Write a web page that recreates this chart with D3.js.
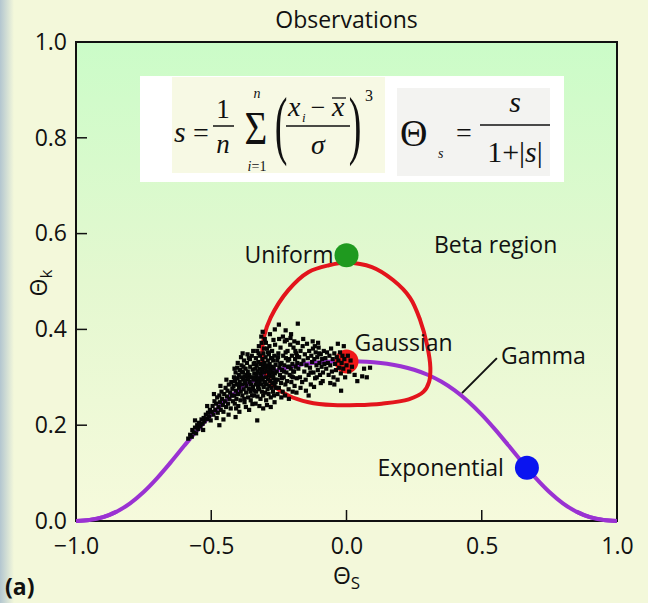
<!DOCTYPE html>
<html><head><meta charset="utf-8">
<script src="https://cdn.jsdelivr.net/npm/d3@7"></script>
<style>
html,body{margin:0;padding:0;background:#f3f8da;}
svg{display:block;}
</style></head><body>
<svg id="chart" width="648" height="603"></svg>
<script>
// Gamma family curve: Θs vs Θk
const gammaS = [-1.0,-0.95,-0.9,-0.85,-0.8,-0.75,-0.7,-0.65,-0.6,-0.55,-0.5,-0.45,-0.4,-0.35,-0.3,-0.25,-0.2,-0.15,-0.1,-0.05,0,
  0.05,0.1,0.15,0.2,0.25,0.3,0.35,0.4,0.45,0.5,0.55,0.6,0.65,0.7,0.75,0.8,0.85,0.9,0.95,1.0];
const gammaK = [0,0.002,0.008,0.0195,0.037,0.0606,0.0896,0.1224,0.1569,0.1908,0.2222,0.2497,0.2727,0.2911,0.3053,0.3158,0.3232,0.3282,0.3313,0.3329,0.3333,
  0.3329,0.3313,0.3282,0.3232,0.3158,0.3053,0.2911,0.2727,0.2497,0.2222,0.1908,0.1569,0.1224,0.0896,0.0606,0.037,0.0195,0.008,0.002,0];

// Beta region boundary (closed loop)
const loopS = [0,0.094,0.172,0.235,0.272,0.298,0.310,0.305,0.285,0.230,0.130,0.040,-0.050,-0.140,-0.215,-0.270,-0.300,-0.312,-0.305,-0.280,-0.215,-0.140,-0.065];
const loopK = [0.539,0.530,0.503,0.466,0.420,0.367,0.320,0.290,0.270,0.254,0.245,0.242,0.242,0.248,0.262,0.283,0.310,0.345,0.385,0.425,0.482,0.520,0.534];

// Reference distributions
const refNames = ["Uniform","Gaussian","Exponential"];
const refS = [0, 0, 0.667];
const refK = [0.555, 0.333, 0.111];
const refColors = ["#1f9a1f","#f01818","#0a14f0"];

// Observations (Θs, Θk pairs)
const obs = [
-0.585,0.172,-0.578,0.180,-0.572,0.176,-0.570,0.190,-0.565,0.185,-0.560,0.195,-0.556,0.183,-0.552,0.200,-0.548,0.192,-0.545,0.205,
-0.540,0.198,-0.536,0.212,-0.532,0.203,-0.528,0.215,-0.525,0.208,-0.520,0.222,-0.516,0.213,-0.512,0.226,-0.508,0.218,-0.505,0.232,
-0.502,0.210,-0.498,0.228,-0.560,0.210,-0.530,0.190,-0.515,0.240,
-0.495,0.240,-0.492,0.222,-0.488,0.250,-0.485,0.232,-0.482,0.245,-0.478,0.258,-0.476,0.226,-0.473,0.238,-0.470,0.262,-0.468,0.248,
-0.465,0.232,-0.462,0.270,-0.460,0.255,-0.457,0.242,-0.455,0.228,-0.452,0.265,-0.450,0.250,-0.447,0.278,-0.445,0.238,-0.442,0.260,
-0.440,0.272,-0.438,0.245,-0.435,0.285,-0.433,0.255,-0.430,0.268,-0.428,0.235,-0.426,0.290,-0.424,0.262,-0.422,0.276,-0.420,0.250,
-0.490,0.265,-0.480,0.215,-0.466,0.282,-0.455,0.212,-0.444,0.295,-0.436,0.222,-0.410,0.217,-0.470,0.200,
-0.418,0.282,-0.416,0.300,-0.415,0.262,-0.413,0.245,-0.412,0.292,-0.410,0.310,-0.409,0.272,-0.407,0.255,-0.406,0.285,-0.404,0.320,
-0.403,0.298,-0.401,0.265,-0.400,0.240,-0.398,0.305,-0.397,0.278,-0.395,0.290,-0.394,0.315,-0.392,0.252,-0.391,0.270,-0.389,0.300,
-0.388,0.325,-0.386,0.285,-0.385,0.262,-0.383,0.310,-0.382,0.295,-0.380,0.275,-0.379,0.335,-0.377,0.248,-0.376,0.302,-0.374,0.288,
-0.373,0.318,-0.371,0.268,-0.370,0.282,-0.368,0.330,-0.367,0.296,-0.365,0.312,-0.364,0.258,-0.362,0.276,-0.361,0.340,-0.359,0.305,
-0.358,0.290,-0.356,0.322,-0.355,0.270,-0.353,0.285,-0.352,0.300,-0.350,0.345,-0.349,0.262,-0.347,0.316,-0.346,0.280,-0.344,0.295,
-0.343,0.328,-0.341,0.308,-0.340,0.272,-0.408,0.235,-0.396,0.228,-0.384,0.350,-0.372,0.238,-0.360,0.232,-0.348,0.244,-0.345,0.355,
-0.390,0.342,-0.378,0.255,-0.366,0.348,-0.354,0.252,-0.402,0.330,-0.414,0.318,-0.387,0.312,-0.375,0.292,-0.363,0.298,-0.351,0.275,
-0.399,0.285,-0.381,0.322,-0.369,0.305,-0.357,0.338,-0.342,0.262,
-0.338,0.300,-0.337,0.318,-0.336,0.285,-0.335,0.340,-0.334,0.270,-0.333,0.305,-0.332,0.325,-0.331,0.292,-0.330,0.355,-0.329,0.260,
-0.328,0.312,-0.327,0.280,-0.326,0.332,-0.325,0.298,-0.324,0.365,-0.323,0.275,-0.322,0.318,-0.321,0.290,-0.320,0.345,-0.319,0.308,
-0.318,0.255,-0.317,0.328,-0.316,0.285,-0.315,0.302,-0.314,0.372,-0.313,0.270,-0.312,0.315,-0.311,0.338,-0.310,0.295,-0.309,0.322,
-0.308,0.262,-0.307,0.350,-0.306,0.280,-0.305,0.310,-0.304,0.330,-0.303,0.290,-0.302,0.380,-0.301,0.268,-0.300,0.318,-0.299,0.342,
-0.298,0.300,-0.297,0.252,-0.296,0.325,-0.295,0.285,-0.294,0.360,-0.293,0.312,-0.292,0.275,-0.291,0.335,-0.290,0.296,-0.289,0.320,
-0.288,0.265,-0.287,0.348,-0.286,0.305,-0.285,0.282,-0.284,0.328,-0.283,0.390,-0.282,0.292,-0.281,0.315,-0.280,0.258,-0.279,0.340,
-0.278,0.302,-0.277,0.278,-0.276,0.322,-0.275,0.355,-0.274,0.288,-0.273,0.310,-0.272,0.270,-0.271,0.335,-0.270,0.298,-0.269,0.318,
-0.268,0.262,-0.267,0.345,-0.266,0.285,-0.265,0.308,-0.264,0.368,-0.263,0.295,-0.262,0.326,-0.261,0.278,-0.336,0.245,-0.322,0.240,
-0.308,0.235,-0.294,0.242,-0.280,0.238,-0.266,0.248,-0.330,0.210,-0.315,0.385,-0.298,0.372,-0.285,0.365,-0.270,0.378,-0.325,0.350,
-0.305,0.360,-0.290,0.352,-0.275,0.340,-0.340,0.330,-0.328,0.288,-0.312,0.298,-0.300,0.288,-0.286,0.312,-0.272,0.302,-0.262,0.290,
-0.250,0.410,-0.180,0.412,-0.310,0.395,-0.265,0.400,-0.225,0.398,-0.205,0.390,
-0.258,0.312,-0.256,0.335,-0.254,0.295,-0.252,0.350,-0.250,0.278,-0.248,0.320,-0.246,0.305,-0.244,0.362,-0.242,0.288,-0.240,0.330,
-0.238,0.315,-0.236,0.270,-0.234,0.345,-0.232,0.300,-0.230,0.325,-0.228,0.375,-0.226,0.285,-0.224,0.340,-0.222,0.310,-0.220,0.292,
-0.218,0.355,-0.216,0.322,-0.214,0.275,-0.212,0.338,-0.210,0.305,-0.208,0.368,-0.206,0.318,-0.204,0.290,-0.202,0.345,-0.200,0.328,
-0.198,0.300,-0.196,0.362,-0.194,0.312,-0.192,0.282,-0.190,0.338,-0.188,0.322,-0.186,0.350,-0.184,0.298,-0.182,0.330,-0.180,0.372,
-0.255,0.265,-0.241,0.258,-0.227,0.262,-0.213,0.255,-0.199,0.270,-0.185,0.268,-0.249,0.380,-0.235,0.385,-0.221,0.378,-0.207,0.382,
-0.193,0.375,-0.253,0.342,-0.239,0.298,-0.225,0.352,-0.211,0.322,-0.197,0.312,-0.183,0.345,-0.245,0.328,-0.231,0.312,-0.217,0.335,
-0.203,0.302,-0.189,0.355,
-0.178,0.318,-0.175,0.342,-0.172,0.300,-0.170,0.355,-0.167,0.328,-0.164,0.290,-0.162,0.365,-0.159,0.335,-0.156,0.312,-0.154,0.348,
-0.151,0.295,-0.148,0.325,-0.146,0.370,-0.143,0.340,-0.140,0.305,-0.138,0.355,-0.135,0.320,-0.132,0.285,-0.130,0.345,-0.127,0.332,
-0.124,0.360,-0.122,0.310,-0.119,0.338,-0.116,0.298,-0.114,0.352,-0.111,0.325,-0.108,0.342,-0.106,0.315,-0.103,0.362,-0.100,0.330,
-0.098,0.305,-0.095,0.348,-0.092,0.322,-0.090,0.338,-0.087,0.310,-0.084,0.355,-0.082,0.328,-0.140,0.262,-0.120,0.280,-0.095,0.288,
-0.160,0.380,-0.125,0.375,-0.105,0.372,-0.088,0.292,-0.150,0.272,-0.110,0.300,-0.170,0.278,-0.133,0.310,-0.117,0.365,-0.101,0.350,
-0.078,0.340,-0.075,0.318,-0.072,0.352,-0.069,0.330,-0.066,0.305,-0.063,0.345,-0.060,0.325,-0.057,0.360,-0.054,0.312,-0.051,0.338,
-0.048,0.300,-0.045,0.350,-0.042,0.328,-0.039,0.315,-0.036,0.342,-0.033,0.295,-0.030,0.335,-0.027,0.320,-0.024,0.352,-0.021,0.308,
-0.018,0.330,-0.015,0.345,-0.012,0.318,-0.008,0.338,-0.005,0.300,0.000,0.325,0.005,0.345,0.010,0.312,0.015,0.335,0.020,0.322,
-0.020,0.272,-0.045,0.285,0.030,0.305,0.058,0.302,0.065,0.318,0.087,0.320,0.075,0.300,-0.060,0.288,0.040,0.292,-0.010,0.365,
-0.032,0.370
];

const xTicks = [-1.0,-0.5,0.0,0.5,1.0];
const yTicks = [0.0,0.2,0.4,0.6,0.8,1.0];

const W = 648, H = 603;
const svg = d3.select("#chart");
const sans = "'Open Sans', 'Noto Sans', sans-serif";
const serif = "'Liberation Serif', 'DejaVu Serif', serif";
const FS = 23;

const x = d3.scaleLinear().domain([-1,1]).range([76,617]);
const y = d3.scaleLinear().domain([0,1]).range([521,42]);

const defs = svg.append("defs");
const pg = defs.append("linearGradient").attr("id","plotbg").attr("x1",0).attr("y1",0).attr("x2",0).attr("y2",1);
pg.append("stop").attr("offset","0%").attr("stop-color","#cbfcc8");
pg.append("stop").attr("offset","50%").attr("stop-color","#e4f8d0");
pg.append("stop").attr("offset","100%").attr("stop-color","#f6fadc");
const lg = defs.append("linearGradient").attr("id","edge").attr("x1",0).attr("y1",0).attr("x2",1).attr("y2",0);
lg.append("stop").attr("offset","0%").attr("stop-color","#b3c6d0");
lg.append("stop").attr("offset","100%").attr("stop-color","#f3f8da");

// page background with the bluish left edge
svg.append("rect").attr("width",W).attr("height",H).attr("fill","#f3f8da");
svg.append("rect").attr("width",14).attr("height",H).attr("fill","url(#edge)");

// plot area
svg.append("rect")
  .attr("x",x(-1)).attr("y",y(1)).attr("width",x(1)-x(-1)).attr("height",y(0)-y(1))
  .attr("fill","url(#plotbg)");

// formula panel
const fx = svg.append("g");
fx.append("rect").attr("x",140).attr("y",76).attr("width",424).attr("height",106).attr("fill","#ffffff");
fx.append("rect").attr("x",172).attr("y",77).attr("width",213).attr("height",96).attr("fill","#f7f9e4");
fx.append("rect").attr("x",397).attr("y",88).attr("width",153).attr("height",88).attr("fill","#f3f3f1");
const ft = (tx,ty,str,size,opts={}) => fx.append("text").attr("x",tx).attr("y",ty)
  .attr("font-family",serif).attr("font-size",size)
  .attr("font-style",opts.italic?"italic":"normal")
  .attr("text-anchor",opts.anchor||"start").attr("fill","#111").text(str);
ft(174,142,"s",30,{italic:true});
ft(193,142,"=",28);
ft(223,118,"1",27,{anchor:"middle"});
fx.append("line").attr("x1",213).attr("x2",234).attr("y1",126).attr("y2",126).attr("stroke","#111").attr("stroke-width",1.5);
ft(223,153,"n",27,{italic:true,anchor:"middle"});
fx.append("text").attr("transform","translate(256,144) scale(0.85,1)").attr("font-family",serif)
  .attr("font-size",46).attr("text-anchor","middle").attr("fill","#111").text("Σ");
ft(257,98,"n",14,{italic:true,anchor:"middle"});
const il = ft(257,171,"",14,{anchor:"middle"});
il.append("tspan").attr("font-style","italic").text("i");
il.append("tspan").text("=1");
fx.append("text").attr("transform","translate(281,150) scale(0.5,1)").attr("font-family",serif)
  .attr("font-size",76).attr("text-anchor","middle").attr("fill","#111").text("(");
fx.append("text").attr("transform","translate(355,150) scale(0.5,1)").attr("font-family",serif)
  .attr("font-size",76).attr("text-anchor","middle").attr("fill","#111").text(")");
ft(288,116,"x",28,{italic:true});
ft(302,122,"i",13,{italic:true});
ft(318,116,"−",26,{anchor:"middle"});
ft(332,116,"x",28,{italic:true});
fx.append("line").attr("x1",332).attr("x2",346).attr("y1",98).attr("y2",98).attr("stroke","#111").attr("stroke-width",1.3);
fx.append("line").attr("x1",286).attr("x2",350).attr("y1",126).attr("y2",126).attr("stroke","#111").attr("stroke-width",1.5);
ft(318,154,"σ",28,{italic:true,anchor:"middle"});
ft(365,101,"3",16);
ft(400,146,"Θ",38);
ft(438,158,"s",14,{italic:true});
ft(456,142,"=",28);
ft(515,112,"s",30,{italic:true,anchor:"middle"});
fx.append("line").attr("x1",480).attr("x2",550).attr("y1",125).attr("y2",125).attr("stroke","#111").attr("stroke-width",1.5);
const den = ft(515,162,"",30,{anchor:"middle"});
den.append("tspan").text("1+|");
den.append("tspan").attr("font-style","italic").text("s");
den.append("tspan").text("|");

// Gamma curve
const line = d3.line().x(d=>x(d[0])).y(d=>y(d[1])).curve(d3.curveMonotoneX);
const gammaPts = gammaS.map((s,i)=>[s,gammaK[i]]);
svg.append("path").datum(gammaPts)
  .attr("d",line).attr("fill","none").attr("stroke","#9a32d2").attr("stroke-width",4);

// Beta region boundary
const loop = d3.line().x(d=>x(d[0])).y(d=>y(d[1])).curve(d3.curveCatmullRomClosed);
svg.append("path").datum(loopS.map((s,i)=>[s,loopK[i]]))
  .attr("d",loop).attr("fill","none").attr("stroke","#e3141c").attr("stroke-width",4);

// Gamma leader line
svg.append("line").attr("x1",x(0.427)).attr("y1",y(0.267)).attr("x2",x(0.556)).attr("y2",y(0.340))
  .attr("stroke","#111").attr("stroke-width",2);

// reference distributions
svg.selectAll("circle.ref").data(refNames).enter().append("circle").attr("class","ref")
  .attr("cx",(d,i)=>x(refS[i])).attr("cy",(d,i)=>y(refK[i])).attr("r",12)
  .attr("fill",(d,i)=>refColors[i]);

// observations
const pts = d3.range(0,obs.length,2).map(i=>[obs[i],obs[i+1]]);
svg.append("g").selectAll("rect").data(pts).enter().append("rect")
  .attr("x",d=>x(d[0])-2.1).attr("y",d=>y(d[1])-2.1).attr("width",4.2).attr("height",4.2).attr("fill","#050505");

// frame and ticks
svg.append("rect")
  .attr("x",x(-1)).attr("y",y(1)).attr("width",x(1)-x(-1)).attr("height",y(0)-y(1))
  .attr("fill","none").attr("stroke","#111").attr("stroke-width",2);
// curve ends drawn over the frame
svg.append("path").datum(gammaPts.filter(d=>d[0]<=-0.85)).attr("d",line)
  .attr("fill","none").attr("stroke","#9a32d2").attr("stroke-width",4);
svg.append("path").datum(gammaPts.filter(d=>d[0]>=0.85)).attr("d",line)
  .attr("fill","none").attr("stroke","#9a32d2").attr("stroke-width",4);

const xAxis = d3.axisBottom(x).tickValues(xTicks).tickSize(0).tickPadding(17)
  .tickFormat(d=>d3.format(".1f")(d).replace("-","−"));
const gx = svg.append("g").attr("transform",`translate(0,${y(0)})`).call(xAxis);
gx.select(".domain").remove();
gx.selectAll("text").attr("font-family",sans).attr("font-size",FS).attr("fill","#111");
svg.append("g").selectAll("line").data(xTicks.slice(1,-1)).enter().append("line")
  .attr("x1",d=>x(d)).attr("x2",d=>x(d)).attr("y1",y(0)).attr("y2",y(0)-11).attr("stroke","#111").attr("stroke-width",1.5);

const yAxis = d3.axisLeft(y).tickValues(yTicks).tickSize(0).tickPadding(9).tickFormat(d3.format(".1f"));
const gy = svg.append("g").attr("transform",`translate(${x(-1)},0)`).call(yAxis);
gy.select(".domain").remove();
gy.selectAll("text").attr("font-family",sans).attr("font-size",FS).attr("fill","#111");
svg.append("g").selectAll("line").data(yTicks.slice(1,-1)).enter().append("line")
  .attr("x1",x(-1)).attr("x2",x(-1)+11).attr("y1",d=>y(d)).attr("y2",d=>y(d)).attr("stroke","#111").attr("stroke-width",1.5);

// titles
const txt = (tx,ty,str,size,anchor="start",weight="normal") => svg.append("text").attr("x",tx).attr("y",ty)
  .attr("font-family",sans).attr("font-size",size).attr("font-weight",weight).attr("text-anchor",anchor).attr("fill","#111").text(str);
txt((x(-1)+x(1))/2,28,"Observations",FS,"middle");
const xl = txt((x(-1)+x(1))/2,584,"",FS,"middle");
xl.append("tspan").text("Θ");
xl.append("tspan").attr("font-size",17).attr("dy",5).text("S");
const yl = svg.append("text").attr("transform","translate(47,283) rotate(-90)").attr("font-family",sans)
  .attr("font-size",FS).attr("text-anchor","middle").attr("fill","#111");
yl.append("tspan").text("Θ");
yl.append("tspan").attr("font-size",17).attr("dy",5).text("k");
txt(5,595,"(a)",FS,"start","bold");

// annotations
txt(x(0)-13,y(refK[0])+8,"Uniform",FS,"end");
txt(x(0)+8,y(refK[1])-10,"Gaussian",FS,"start");
txt(x(refS[2])-23,y(refK[2])+8,"Exponential",FS,"end");
txt(434,253,"Beta region",FS,"start");
txt(501,364,"Gamma",FS,"start");
</script>
</body></html>
